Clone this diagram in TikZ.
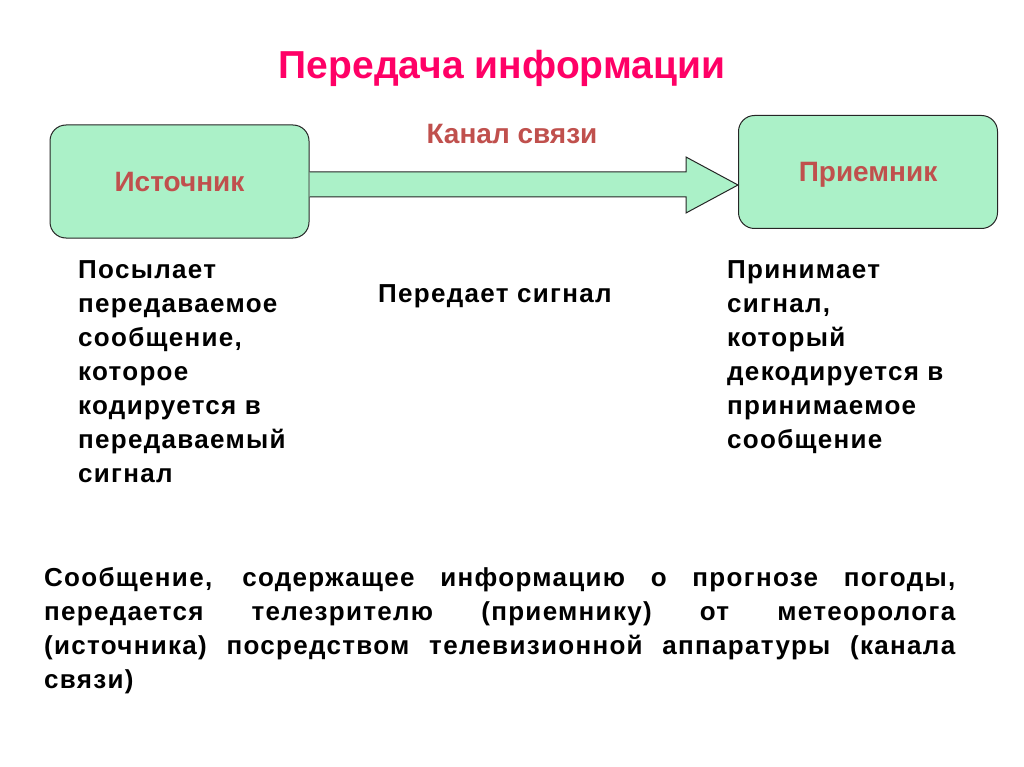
\documentclass[tikz,border=0pt]{standalone}
\usepackage{fontspec}
\setmainfont{Liberation Sans}
\newfontfamily\bodyfont{Liberation Sans}[LetterSpace=5]
\definecolor{boxfill}{RGB}{171,241,200}
\definecolor{boxtext}{RGB}{192,80,77}
\definecolor{titlecol}{RGB}{255,0,102}
\begin{document}
\begin{tikzpicture}[x=1pt,y=-1pt,
  block/.style={draw=black!85,line width=1pt,fill=boxfill,rounded corners=16pt,
    minimum width=259pt,minimum height=113pt,inner sep=0pt,text height=20pt,text depth=0pt,
    font=\fontsize{28}{32}\selectfont\bfseries,text=boxtext},
  para/.style={inner sep=0pt,align=left,font=\bodyfont\fontsize{26}{34}\selectfont\bfseries},
]
\useasboundingbox[fill=white] (0,0) rectangle (1024,767);
\node[font=\fontsize{39}{42}\selectfont\bfseries,text=titlecol,anchor=base] (title) at (502,79) {Передача информации};
\node[block] (src) at (179.5,181.5) {Источник};
\node[block] (dst) at (868,172) {Приемник};
\coordinate (a1) at (src.east |- 0,172);
\coordinate (a2) at (src.east |- 0,197);
\draw[line width=1pt,draw=black!85,fill=boxfill]
  (a1) -- (686,172) -- (686,157) -- (dst.west |- 0,185) -- (686,213) -- (686,197) -- (a2);
\node[font=\fontsize{28}{32}\selectfont\bfseries,text=boxtext,anchor=base] (chan) at (512,144) {Канал связи};
\node[para,anchor=north west] (srctext) at (78,260) {Посылает\\передаваемое\\сообщение,\\которое\\кодируется в\\передаваемый\\сигнал};
\node[para,anchor=north west] (chantext) at (378,284) {Передает сигнал};
\node[para,anchor=north west] (dsttext) at (727,260) {Принимает\\сигнал,\\который\\декодируется в\\принимаемое\\сообщение};
\node[para,anchor=north west,text width=911pt,align=justify] (example) at (44,567) {Сообщение, содержащее информацию о прогнозе погоды,\linebreak передается телезрителю (приемнику) от метеоролога\linebreak (источника) посредством телевизионной аппаратуры (канала\linebreak связи)};
\end{tikzpicture}
\end{document}
